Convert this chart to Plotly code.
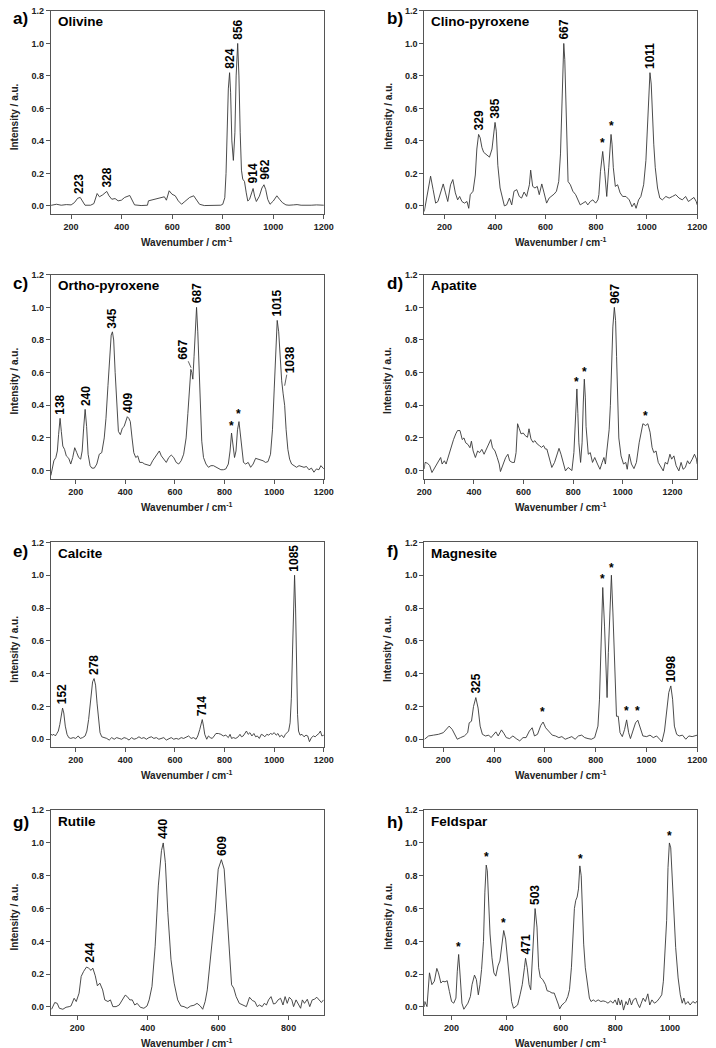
import plotly.graph_objects as go

# ---------------- data ----------------
olivine_x = [120, 123, 142, 161, 181, 200, 213, 226, 236, 245,
             255, 277, 290, 303, 312, 325, 341, 350, 361, 374,
             386, 399, 412, 432, 441, 451, 477, 502, 506, 528,
             554, 569, 577, 588, 599, 612, 624, 637, 650, 669,
             685, 695, 708, 727, 772, 792, 800, 808, 813, 818,
             822, 827, 831, 836, 842, 848, 853, 859, 864, 869,
             874, 879, 886, 893, 899, 906, 913, 920, 926, 933,
             945, 955, 963, 970, 978, 987, 1000, 1014, 1025, 1036,
             1050, 1062, 1080, 1094, 1110, 1132, 1150, 1171, 1185, 1200]
olivine_y = [0.002, 0.004, 0.010, 0.004, 0.008, 0.006, 0.020, 0.047, 0.052, 0.027,
             0.004, 0.004, 0.014, 0.076, 0.056, 0.068, 0.089, 0.062, 0.041, 0.045,
             0.031, 0.035, 0.052, 0.064, 0.035, 0.006, 0.002, 0.004, 0.031, 0.039,
             0.047, 0.056, 0.035, 0.093, 0.072, 0.062, 0.031, 0.010, 0.027, 0.052,
             0.062, 0.041, 0.010, 0.002, 0.002, 0.004, 0.010, 0.050, 0.200, 0.500,
             0.720, 0.820, 0.700, 0.400, 0.280, 0.450, 0.800, 1.000, 0.800, 0.450,
             0.220, 0.165, 0.150, 0.080, 0.030, 0.040, 0.080, 0.107, 0.060, 0.027,
             0.060, 0.110, 0.130, 0.100, 0.040, 0.010, 0.030, 0.062, 0.040, 0.020,
             0.006, 0.004, 0.006, 0.008, 0.004, 0.002, 0.004, 0.006, 0.003, 0.004]

clino_x = [120, 125, 136, 145, 155, 165, 174, 184, 195, 204,
           213, 224, 233, 243, 252, 260, 269, 279, 289, 296,
           302, 313, 322, 328, 335, 341, 348, 355, 368, 378,
           388, 394, 400, 405, 411, 420, 431, 437, 446, 457,
           466, 475, 486, 496, 505, 515, 525, 536, 541, 549,
           558, 567, 575, 585, 594, 604, 614, 623, 634, 643,
           652, 659, 664, 668, 672, 676, 680, 685, 689, 698,
           708, 719, 728, 737, 748, 758, 767, 777, 787, 798,
           807, 811, 817, 826, 834, 842, 850, 855, 859, 863,
           868, 876, 885, 895, 905, 918, 931, 942, 951, 958,
           968, 977, 988, 997, 1003, 1008, 1013, 1018, 1023, 1028,
           1034, 1043, 1052, 1062, 1076, 1089, 1102, 1115, 1128, 1141,
           1154, 1165, 1174, 1187, 1196, 1200]
clino_y = [-0.035, 0.006, 0.110, 0.183, 0.100, 0.017, 0.027, 0.080, 0.135, 0.080,
           0.027, 0.130, 0.162, 0.080, 0.037, 0.058, 0.027, 0.017, 0.027, -0.015,
           0.069, 0.090, 0.190, 0.350, 0.440, 0.420, 0.360, 0.330, 0.310, 0.300,
           0.350, 0.450, 0.514, 0.460, 0.250, 0.110, 0.037, 0.000, 0.006, 0.048,
           0.006, 0.090, 0.100, 0.058, 0.048, 0.085, 0.058, 0.130, 0.220, 0.120,
           0.110, 0.120, 0.069, 0.135, 0.080, 0.017, 0.048, 0.058, 0.073, 0.090,
           0.150, 0.320, 0.620, 0.920, 1.000, 0.900, 0.600, 0.300, 0.150, 0.130,
           0.090, 0.069, 0.037, 0.006, 0.017, 0.027, 0.006, 0.027, 0.037, 0.017,
           0.037, 0.070, 0.210, 0.335, 0.210, 0.058, 0.235, 0.380, 0.440, 0.380,
           0.235, 0.120, 0.130, 0.080, 0.058, 0.058, 0.037, -0.005, 0.017, -0.015,
           0.037, 0.058, 0.130, 0.280, 0.500, 0.720, 0.820, 0.750, 0.550, 0.380,
           0.235, 0.110, 0.048, 0.037, 0.058, 0.048, 0.058, 0.069, 0.048, 0.037,
           0.058, 0.027, 0.037, 0.052, 0.027, 0.006]

ortho_x = [100, 106, 112, 120, 126, 131, 137, 142, 148, 155,
           162, 172, 180, 188, 196, 204, 212, 220, 226, 232,
           238, 244, 250, 258, 265, 275, 285, 295, 305, 315,
           322, 330, 337, 343, 348, 353, 359, 365, 372, 380,
           388, 395, 402, 408, 414, 420, 427, 434, 442, 450,
           458, 468, 478, 488, 500, 510, 520, 530, 537, 545,
           555, 565, 575, 585, 595, 605, 615, 625, 635, 645,
           652, 658, 664, 668, 672, 677, 682, 687, 692, 697,
           702, 708, 715, 725, 735, 745, 755, 765, 775, 785,
           795, 805, 815, 822, 828, 833, 840, 846, 852, 858,
           864, 870, 876, 885, 895, 905, 915, 925, 935, 945,
           955, 965, 975, 985, 993, 1000, 1006, 1012, 1018, 1024,
           1030, 1036, 1042, 1048, 1055, 1062, 1070, 1080, 1090, 1100,
           1110, 1120, 1130, 1140, 1150, 1160, 1170, 1180, 1188, 1195, 1200]
ortho_y = [-0.030, 0.030, 0.060, 0.080, 0.120, 0.220, 0.320, 0.240, 0.150, 0.130,
           0.090, 0.075, 0.040, 0.080, 0.140, 0.110, 0.080, 0.070, 0.120, 0.260,
           0.375, 0.270, 0.100, 0.030, 0.015, 0.015, 0.040, 0.100, 0.110, 0.200,
           0.320, 0.520, 0.720, 0.830, 0.850, 0.800, 0.600, 0.400, 0.240, 0.220,
           0.260, 0.270, 0.310, 0.330, 0.320, 0.300, 0.200, 0.110, 0.080, 0.090,
           0.050, 0.050, 0.040, 0.035, 0.030, 0.060, 0.080, 0.100, 0.120, 0.090,
           0.070, 0.050, 0.080, 0.095, 0.080, 0.050, 0.040, 0.060, 0.100, 0.200,
           0.350, 0.500, 0.620, 0.600, 0.560, 0.700, 0.900, 1.000, 0.850, 0.600,
           0.350, 0.180, 0.080, 0.040, 0.020, 0.030, 0.030, 0.020, 0.010, 0.005,
           0.005, 0.010, 0.040, 0.120, 0.230, 0.150, 0.080, 0.120, 0.250, 0.300,
           0.220, 0.100, 0.050, 0.040, 0.050, 0.020, 0.040, 0.075, 0.070, 0.065,
           0.060, 0.050, 0.055, 0.100, 0.250, 0.500, 0.750, 0.920, 0.850, 0.680,
           0.550, 0.470, 0.400, 0.250, 0.130, 0.070, 0.040, 0.030, 0.020, 0.030,
           0.025, 0.020, 0.025, 0.005, 0.015, -0.010, 0.010, 0.005, 0.030, 0.020, 0.010]

apatite_x = [200, 203, 213, 222, 231, 239, 249, 258, 266, 272,
             281, 288, 297, 307, 318, 327, 334, 344, 353, 360,
             367, 376, 384, 390, 397, 406, 415, 423, 432, 441,
             449, 458, 468, 475, 485, 494, 502, 507, 517, 528,
             537, 544, 554, 563, 570, 576, 583, 590, 599, 607,
             616, 622, 630, 638, 646, 655, 664, 672, 681, 688,
             694, 704, 714, 725, 734, 743, 751, 760, 769, 780,
             790, 795, 803, 808, 812, 815, 819, 823, 830, 836,
             841, 845, 849, 852, 861, 869, 878, 887, 898, 908,
             917, 924, 930, 940, 945, 950, 955, 960, 966, 971,
             975, 979, 984, 993, 1003, 1012, 1018, 1026, 1035, 1045,
             1055, 1066, 1075, 1081, 1092, 1101, 1110, 1118, 1125, 1134,
             1143, 1154, 1163, 1171, 1180, 1190, 1197, 1206, 1215, 1226,
             1235, 1243, 1252, 1261, 1269, 1280, 1289, 1297, 1300]
apatite_y = [0.010, 0.050, 0.045, 0.030, -0.012, 0.008, 0.030, 0.060, 0.080, 0.040,
             0.060, 0.040, 0.090, 0.140, 0.190, 0.225, 0.245, 0.245, 0.190, 0.200,
             0.170, 0.160, 0.140, 0.180, 0.120, 0.080, 0.120, 0.110, 0.130, 0.100,
             0.130, 0.160, 0.190, 0.140, 0.120, 0.080, 0.040, -0.006, 0.040, 0.080,
             0.100, 0.060, 0.050, 0.050, 0.110, 0.287, 0.256, 0.225, 0.230, 0.214,
             0.204, 0.256, 0.194, 0.173, 0.183, 0.163, 0.153, 0.142, 0.153, 0.132,
             0.132, 0.080, 0.019, 0.050, 0.100, 0.136, 0.100, 0.040, -0.002, 0.019,
             0.008, 0.000, 0.110, 0.270, 0.450, 0.500, 0.350, 0.170, 0.050, 0.170,
             0.420, 0.560, 0.450, 0.270, 0.100, 0.110, 0.050, 0.080, 0.040, 0.008,
             0.050, 0.080, 0.040, 0.163, 0.250, 0.400, 0.620, 0.880, 1.000, 0.920,
             0.700, 0.450, 0.200, 0.090, 0.040, 0.050, 0.008, 0.100, 0.040, 0.012,
             0.050, 0.170, 0.235, 0.287, 0.276, 0.287, 0.235, 0.142, 0.110, 0.120,
             0.050, 0.019, -0.002, 0.050, 0.040, 0.100, 0.070, 0.090, 0.030, -0.002,
             0.050, 0.008, 0.019, 0.060, 0.040, 0.070, 0.100, 0.070, 0.040]

calcite_x = [100, 106, 112, 118, 124, 130, 136, 142, 147, 152,
             158, 165, 172, 180, 190, 200, 210, 218, 228, 238,
             245, 252, 260, 268, 274, 280, 286, 292, 298, 305,
             315, 325, 335, 345, 355, 365, 375, 385, 395, 405,
             415, 425, 435, 445, 455, 465, 475, 485, 495, 505,
             515, 525, 535, 545, 555, 565, 575, 585, 595, 605,
             615, 625, 635, 645, 655, 665, 675, 685, 692, 700,
             705, 710, 715, 720, 728, 735, 742, 750, 758, 765,
             775, 785, 795, 805, 815, 822, 828, 835, 845, 855,
             862, 868, 875, 882, 888, 895, 902, 910, 918, 925,
             932, 940, 948, 955, 962, 970, 978, 985, 992, 1000,
             1008, 1015, 1022, 1030, 1038, 1045, 1052, 1058, 1064, 1069,
             1074, 1078, 1082, 1086, 1090, 1094, 1098, 1104, 1112, 1120,
             1128, 1135, 1142, 1150, 1158, 1165, 1172, 1180, 1186, 1192, 1200]
calcite_y = [0.030, 0.025, 0.030, 0.020, 0.035, 0.050, 0.090, 0.160, 0.190, 0.160,
             0.080, 0.030, 0.010, 0.005, 0.010, 0.005, 0.020, 0.005, 0.010, 0.020,
             0.050, 0.120, 0.250, 0.350, 0.370, 0.330, 0.220, 0.100, 0.040, 0.015,
             0.010, 0.005, -0.005, 0.010, 0.000, 0.010, 0.005, 0.000, 0.010, 0.005,
             -0.005, 0.010, 0.000, 0.005, 0.015, 0.005, 0.010, 0.000, 0.010, 0.015,
             0.005, 0.010, 0.000, 0.005, 0.010, -0.005, 0.005, 0.010, 0.000, 0.005,
             0.000, 0.010, 0.005, 0.015, 0.020, 0.005, 0.010, 0.000, 0.020, 0.060,
             0.100, 0.120, 0.080, 0.030, 0.000, 0.020, 0.010, 0.005, 0.020, 0.035,
             0.035, 0.030, 0.020, 0.025, 0.010, 0.030, 0.005, 0.010, 0.005, 0.015,
             0.030, 0.015, 0.020, 0.035, 0.050, 0.030, 0.040, 0.020, 0.035, 0.015,
             0.020, 0.005, 0.030, 0.025, 0.015, 0.030, 0.025, 0.035, 0.030, 0.040,
             0.025, 0.035, 0.015, 0.025, 0.010, 0.030, 0.040, 0.050, 0.100, 0.250,
             0.550, 0.850, 1.000, 0.800, 0.450, 0.150, 0.050, 0.025, 0.030, 0.015,
             0.025, 0.020, -0.015, 0.010, 0.020, 0.015, 0.025, 0.035, 0.050, 0.020, 0.025]

magnesite_x = [126, 142, 161, 181, 200, 213, 223, 235, 245, 255,
               268, 283, 296, 302, 311, 319, 328, 337, 345, 354,
               366, 379, 388, 397, 407, 416, 429, 438, 448, 461,
               474, 487, 501, 514, 526, 539, 550, 559, 571, 584,
               593, 603, 616, 629, 642, 655, 667, 680, 693, 706,
               719, 732, 745, 757, 770, 783, 796, 809, 815, 822,
               828, 835, 841, 845, 850, 857, 862, 868, 876, 882,
               889, 896, 905, 914, 922, 930, 937, 948, 957, 966,
               976, 986, 1001, 1014, 1027, 1040, 1052, 1061, 1071, 1080,
               1088, 1096, 1103, 1110, 1119, 1129, 1142, 1155, 1167, 1180,
               1193, 1200]
magnesite_y = [0.000, 0.020, 0.025, 0.030, 0.040, 0.060, 0.080, 0.060, 0.030, 0.000,
               0.010, 0.020, 0.040, 0.100, 0.110, 0.200, 0.254, 0.190, 0.080, 0.030,
               0.020, 0.025, 0.010, 0.030, 0.045, 0.020, 0.057, 0.037, 0.010, 0.004,
               0.020, 0.004, -0.010, 0.010, 0.010, 0.050, 0.070, 0.020, 0.030, 0.085,
               0.105, 0.070, 0.050, 0.025, 0.020, 0.010, 0.016, 0.000, 0.008, 0.016,
               0.000, 0.020, 0.025, 0.010, 0.004, 0.000, 0.010, 0.080, 0.240, 0.690,
               0.925, 0.690, 0.325, 0.254, 0.530, 0.890, 1.000, 0.770, 0.325, 0.140,
               0.140, 0.040, 0.016, 0.060, 0.118, 0.040, 0.004, 0.050, 0.100, 0.116,
               0.070, 0.020, 0.016, 0.025, 0.010, 0.020, 0.000, -0.016, 0.050, 0.160,
               0.285, 0.325, 0.244, 0.080, 0.030, 0.020, 0.025, 0.000, 0.020, 0.016,
               0.020, 0.025]

rutile_x = [127, 136, 143, 149, 159, 168, 177, 182, 191, 197,
            205, 211, 218, 226, 232, 239, 244, 251, 257, 264,
            272, 278, 287, 294, 301, 310, 319, 329, 336, 342,
            349, 356, 363, 370, 379, 389, 398, 404, 412, 421,
            430, 439, 444, 450, 457, 466, 475, 485, 494, 503,
            512, 522, 531, 540, 549, 556, 563, 569, 577, 585,
            591, 600, 609, 617, 625, 633, 638, 644, 651, 660,
            669, 680, 689, 697, 704, 711, 717, 725, 731, 737,
            743, 750, 757, 763, 770, 777, 784, 790, 796, 802,
            809, 814, 821, 827, 834, 839, 845, 853, 860, 867,
            873, 880, 887, 893, 899]
rutile_y = [-0.014, 0.027, 0.022, -0.008, -0.014, -0.002, 0.002, 0.006, 0.053, 0.033,
            0.084, 0.186, 0.217, 0.243, 0.237, 0.223, 0.237, 0.190, 0.129, 0.145,
            0.104, 0.043, 0.033, 0.043, 0.002, 0.002, 0.012, 0.053, 0.072, 0.063,
            0.043, 0.043, 0.012, 0.022, -0.002, -0.008, 0.006, 0.043, 0.125, 0.370,
            0.738, 0.953, 1.000, 0.880, 0.575, 0.288, 0.145, 0.043, 0.006, 0.002,
            -0.008, 0.006, 0.010, 0.022, 0.006, -0.014, 0.033, 0.104, 0.268, 0.430,
            0.575, 0.840, 0.898, 0.840, 0.575, 0.288, 0.135, 0.115, 0.063, 0.022,
            0.012, 0.002, 0.059, 0.039, 0.033, 0.002, 0.012, 0.002, 0.022, 0.012,
            0.043, 0.063, 0.018, 0.022, 0.043, 0.053, 0.012, 0.063, 0.022, 0.059,
            0.043, 0.002, 0.043, 0.022, -0.008, 0.043, 0.022, 0.047, 0.002, 0.043,
            0.047, 0.059, 0.043, 0.027, 0.043]

feldspar_x = [100, 102, 110, 119, 128, 137, 146, 152, 161, 168,
              176, 184, 192, 200, 208, 216, 221, 226, 232, 238,
              245, 251, 260, 269, 275, 284, 291, 298, 304, 310,
              317, 322, 327, 331, 336, 341, 348, 355, 362, 370,
              377, 383, 391, 398, 405, 413, 420, 427, 435, 442,
              451, 459, 467, 471, 477, 484, 490, 496, 501, 506,
              513, 519, 525, 534, 544, 550, 558, 568, 576, 584,
              592, 596, 604, 612, 618, 626, 632, 639, 645, 650,
              655, 660, 665, 670, 675, 680, 684, 690, 698, 705,
              711, 719, 728, 737, 747, 755, 764, 773, 783, 791,
              799, 807, 811, 818, 823, 830, 839, 845, 852, 859,
              866, 875, 881, 889, 895, 902, 910, 919, 926, 934,
              943, 952, 962, 970, 976, 982, 988, 993, 998, 1003,
              1008, 1014, 1021, 1030, 1038, 1045, 1051, 1057, 1066, 1074,
              1084, 1093, 1100]
feldspar_y = [0.000, 0.033, 0.002, 0.208, 0.136, 0.157, 0.235, 0.208, 0.146, 0.157,
              0.153, 0.160, 0.095, 0.033, 0.023, 0.054, 0.218, 0.320, 0.177, 0.023,
              -0.014, 0.002, 0.023, 0.064, 0.136, 0.194, 0.167, 0.074, 0.136, 0.229,
              0.400, 0.700, 0.865, 0.830, 0.600, 0.445, 0.300, 0.208, 0.188, 0.250,
              0.280, 0.363, 0.466, 0.414, 0.300, 0.136, 0.033, -0.008, 0.002, 0.012,
              0.074, 0.136, 0.239, 0.297, 0.239, 0.136, 0.105, 0.280, 0.487, 0.600,
              0.487, 0.239, 0.181, 0.167, 0.136, 0.099, 0.095, 0.085, 0.085, 0.054,
              0.012, -0.012, 0.012, 0.023, 0.033, 0.064, 0.105, 0.239, 0.445, 0.600,
              0.650, 0.670, 0.720, 0.860, 0.800, 0.550, 0.383, 0.239, 0.136, 0.054,
              0.033, 0.043, 0.033, 0.043, 0.033, 0.037, 0.033, 0.023, 0.037, 0.023,
              0.043, 0.012, 0.054, 0.012, 0.043, -0.019, 0.033, 0.012, 0.054, 0.012,
              0.043, 0.054, 0.023, -0.004, 0.023, 0.054, 0.033, 0.080, 0.012, 0.043,
              0.023, 0.033, 0.054, 0.074, 0.157, 0.320, 0.528, 0.850, 1.000, 0.970,
              0.800, 0.550, 0.363, 0.177, 0.074, 0.023, 0.054, 0.016, 0.033, 0.012,
              0.033, 0.023, 0.037]

# peak labels: text, x, y (bottom of the label)
olivine_lbl = ["223", "328", "824", "856", "914", "962"]
olivine_lbl_x = [232, 341, 827, 860, 919, 964]
olivine_lbl_y = [0.062, 0.099, 0.83, 1.01, 0.125, 0.15]

clino_lbl = ["329", "385", "667", "1011", "*", "*"]
clino_lbl_x = [335, 400, 672, 1013, 826, 859]
clino_lbl_y = [0.45, 0.525, 1.01, 0.83, 0.33, 0.435]

ortho_lbl = ["138", "240", "345", "409", "687", "1015", "*", "*"]
ortho_lbl_x = [137, 239, 348, 410, 687, 1012, 828, 858]
ortho_lbl_y = [0.33, 0.385, 0.86, 0.34, 1.01, 0.93, 0.22, 0.29]

apatite_lbl = ["967", "*", "*", "*"]
apatite_lbl_x = [966, 815, 845, 1092]
apatite_lbl_y = [1.01, 0.49, 0.55, 0.28]

calcite_lbl = ["152", "278", "714", "1085"]
calcite_lbl_x = [148, 274, 710, 1082]
calcite_lbl_y = [0.2, 0.38, 0.13, 1.01]

magnesite_lbl = ["325", "1098", "*", "*", "*", "*", "*"]
magnesite_lbl_x = [328, 1096, 591, 828, 862, 922, 966]
magnesite_lbl_y = [0.265, 0.335, 0.11, 0.92, 0.99, 0.12, 0.12]

rutile_lbl = ["244", "440", "609"]
rutile_lbl_x = [237, 445, 609]
rutile_lbl_y = [0.26, 1.01, 0.91]

feldspar_lbl = ["471", "503", "*", "*", "*", "*", "*"]
feldspar_lbl_x = [471, 506, 226, 328, 391, 671, 998]
feldspar_lbl_y = [0.305, 0.61, 0.31, 0.86, 0.46, 0.85, 0.99]

# labels drawn with leader lines (ortho-pyroxene): text, x, y of the pointed point
ortho_lead = ["667", "1038"]
ortho_lead_x = [665, 1042]
ortho_lead_y = [0.63, 0.52]
ortho_lead_ax = [-8, 5]
ortho_lead_ay = [-18, -26]

panel_letters = ["a)", "b)", "c)", "d)", "e)", "f)", "g)", "h)"]
minerals = ["Olivine", "Clino-pyroxene", "Ortho-pyroxene", "Apatite",
            "Calcite", "Magnesite", "Rutile", "Feldspar"]
x_ranges = [[120, 1200], [120, 1200], [100, 1200], [200, 1300],
            [100, 1200], [125, 1200], [125, 900], [100, 1100]]
y_range = [-0.05, 1.2]
y_ticks = [0.0, 0.2, 0.4, 0.6, 0.8, 1.0, 1.2]

spectra = [(olivine_x, olivine_y), (clino_x, clino_y), (ortho_x, ortho_y),
           (apatite_x, apatite_y), (calcite_x, calcite_y),
           (magnesite_x, magnesite_y), (rutile_x, rutile_y),
           (feldspar_x, feldspar_y)]
labels = [(olivine_lbl, olivine_lbl_x, olivine_lbl_y),
          (clino_lbl, clino_lbl_x, clino_lbl_y),
          (ortho_lbl, ortho_lbl_x, ortho_lbl_y),
          (apatite_lbl, apatite_lbl_x, apatite_lbl_y),
          (calcite_lbl, calcite_lbl_x, calcite_lbl_y),
          (magnesite_lbl, magnesite_lbl_x, magnesite_lbl_y),
          (rutile_lbl, rutile_lbl_x, rutile_lbl_y),
          (feldspar_lbl, feldspar_lbl_x, feldspar_lbl_y)]

# ---------------- layout geometry ----------------
W, H = 716, 1048
FONT = "Liberation Sans, Arial, sans-serif"
INK = "#383838"
FRAME = "#555555"
col_px = [(44, 324), (427, 707)]
row_px = [(6, 210), (271, 476), (540, 746), (809, 1015)]
letter_y = [14, 280, 549, 821]


def px(x):
    return x / W


def py(y):
    return 1 - y / H


fig = go.Figure()
annotations = []
layout_axes = {}

for i in range(8):
    r, c = divmod(i, 2)
    n = i + 1
    xs, ys = spectra[i]
    fig.add_trace(go.Scatter(x=xs, y=ys, mode="lines",
                             line=dict(color=INK, width=0.9),
                             xaxis=f"x{n}", yaxis=f"y{n}",
                             showlegend=False, hoverinfo="skip"))
    x0, x1 = col_px[c]
    t, b = row_px[r]
    common = dict(showline=True, linecolor=FRAME, linewidth=1, mirror=True,
                  ticks="outside", ticklen=4, tickwidth=1, tickcolor=FRAME,
                  showgrid=False, zeroline=False,
                  tickfont=dict(family=FONT, size=9, color="#222", weight="bold"))
    rng = x_ranges[i]
    layout_axes[f"xaxis{n}"] = dict(domain=[px(x0), px(x1)], anchor=f"y{n}",
                                    range=rng, tickmode="linear",
                                    tick0=200, dtick=200, **common)
    layout_axes[f"yaxis{n}"] = dict(domain=[py(b), py(t)], anchor=f"x{n}",
                                    range=y_range, tickmode="array",
                                    tickvals=y_ticks,
                                    ticktext=[f"{v:.1f}" for v in y_ticks],
                                    **common)
    # panel letter
    annotations.append(dict(text=panel_letters[i], xref="paper", yref="paper",
                            x=px(3 if c == 0 else 387), y=py(letter_y[r]),
                            xanchor="left", yanchor="middle", showarrow=False,
                            font=dict(family=FONT, size=17, color="#000",
                                      weight="bold")))
    # mineral name
    annotations.append(dict(text=minerals[i], xref="paper", yref="paper",
                            x=px(x0 + 5), y=py(t + 11),
                            xanchor="left", yanchor="middle", showarrow=False,
                            font=dict(family=FONT, size=13.5, color="#000",
                                      weight="bold")))
    # axis titles
    annotations.append(dict(text="Wavenumber / cm<sup>-1</sup>", xref="paper",
                            yref="paper", x=px((x0 + x1) / 2), y=py(b + 28),
                            xanchor="center", yanchor="middle", showarrow=False,
                            font=dict(family=FONT, size=10, color="#222",
                                      weight="bold")))
    annotations.append(dict(text="Intensity / a.u.", xref="paper", yref="paper",
                            x=px(x0 - 37), y=py((t + b) / 2 + 4), textangle=-90,
                            xanchor="center", yanchor="middle", showarrow=False,
                            font=dict(family=FONT, size=10, color="#222",
                                      weight="bold")))
    # peak labels
    txts, lx, ly = labels[i]
    for tx, xv, yv in zip(txts, lx, ly):
        star = tx == "*"
        annotations.append(dict(text=tx, xref=f"x{n}", yref=f"y{n}",
                                x=xv, y=yv, showarrow=False,
                                textangle=0 if star else -90,
                                xanchor="center", yanchor="bottom",
                                font=dict(family=FONT, size=12, color="#000",
                                          weight="bold")))

# leader-line labels of panel c
for tx, xv, yv, ax, ay in zip(ortho_lead, ortho_lead_x, ortho_lead_y,
                              ortho_lead_ax, ortho_lead_ay):
    annotations.append(dict(text=tx, xref="x3", yref="y3", x=xv, y=yv,
                            showarrow=True, arrowhead=0, arrowwidth=0.8,
                            arrowcolor=INK, ax=ax, ay=ay, standoff=0,
                            textangle=-90,
                            font=dict(family=FONT, size=12, color="#000",
                                      weight="bold")))

fig.update_layout(width=W, height=H, margin=dict(l=0, r=0, t=0, b=0),
                  paper_bgcolor="white", plot_bgcolor="white",
                  font=dict(family=FONT, color="#222"),
                  annotations=annotations, **layout_axes)

fig.write_html("out.html",
               config={"displayModeBar": False, "staticPlot": True},
               post_script="document.body.style.margin='0';"
                           "document.body.style.overflow='hidden';")
